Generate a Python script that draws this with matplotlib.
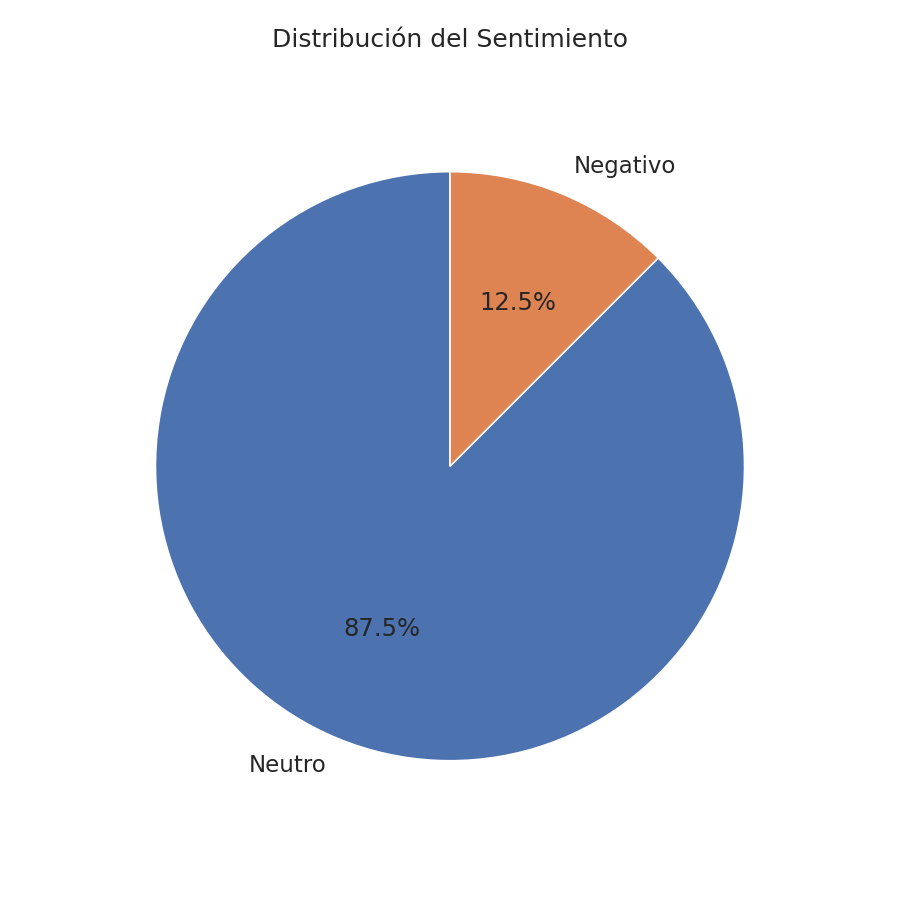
import matplotlib
matplotlib.use("Agg")
import matplotlib.pyplot as plt
import seaborn as sns

sns.set_theme()
labels = ["Neutro", "Negativo"]
values = [87.5, 12.5]
colors = sns.color_palette()[:2]

fig = plt.figure(figsize=(9, 9), dpi=100)
ax = fig.add_axes([0.14, 0.122, 0.72, 0.72])
wedges, texts, autotexts = ax.pie(values, labels=labels, autopct="%1.1f%%", startangle=90,
       colors=colors, textprops={"fontsize": 16.5},
       wedgeprops={"edgecolor": "white", "linewidth": 1.2})
for t in autotexts:
    t.set_fontsize(17.5)
ax.axis("equal")
fig.text(0.5, 1 - 40 / 900, "Distribución del Sentimiento", fontsize=18,
         ha="center", va="center", color="#262626")
fig.savefig("out.png", dpi=100)
